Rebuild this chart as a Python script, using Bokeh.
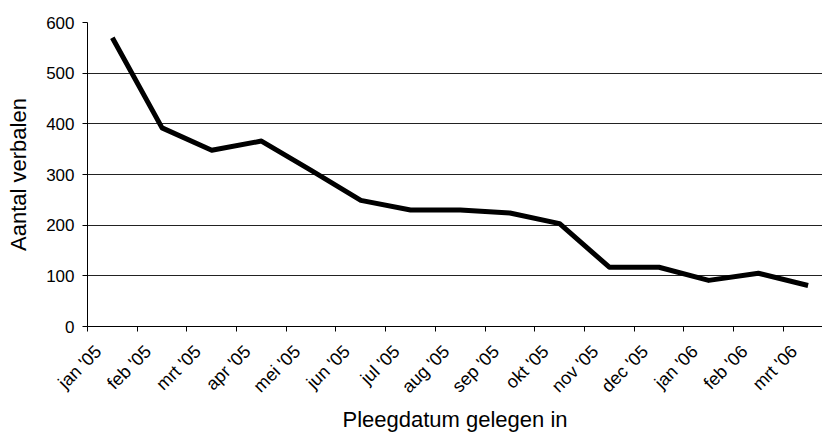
import numpy as np
from math import pi
from bokeh.plotting import figure
from bokeh.models import Range1d, FixedTicker
from bokeh.embed import file_html
from bokeh.resources import INLINE

months = ["jan '05", "feb '05", "mrt '05", "apr '05", "mei '05", "jun '05",
          "jul '05", "aug '05", "sep '05", "okt '05", "nov '05", "dec '05",
          "jan '06", "feb '06", "mrt '06"]
verbalen = [570, 392, 348, 366, 308, 249, 230, 230, 224, 203, 117, 117, 91, 105, 81]
y_ticks = [0, 100, 200, 300, 400, 500, 600]
grid_ticks = [100, 200, 300, 400, 500]

idx = np.arange(len(months))
x_centers = idx + 0.5
label_pos = [float(i) + 0.22 for i in idx]
boundaries = [float(i) for i in idx]

FONT = "Liberation Sans"

p = figure(width=822, height=435, output_backend="svg", toolbar_location=None,
           x_range=Range1d(0, 14.79), y_range=Range1d(0, 600),
           min_border_left=87, min_border_right=0, min_border_top=22,
           min_border_bottom=109)
p.background_fill_color = "white"
p.border_fill_color = "white"
p.outline_line_color = None

p.line(x_centers, verbalen, line_width=5, line_color="black", line_join="round")

# x axis
xa = p.xaxis[0]
xa.ticker = FixedTicker(ticks=label_pos, minor_ticks=boundaries)
xa.major_label_overrides = {lp: m for lp, m in zip(label_pos, months)}
xa.major_label_orientation = pi / 4
xa.major_tick_line_color = None
xa.major_tick_out = 0
xa.major_tick_in = 0
xa.minor_tick_line_color = "black"
xa.minor_tick_out = 5
xa.minor_tick_in = 0
xa.axis_line_color = "black"
xa.major_label_text_font = FONT
xa.major_label_text_font_size = "18px"
xa.major_label_text_color = "black"
xa.major_label_standoff = 17
xa.axis_label = "Pleegdatum gelegen in"
xa.axis_label_text_font = FONT
xa.axis_label_text_font_size = "22px"
xa.axis_label_text_font_style = "normal"
xa.axis_label_text_color = "black"
xa.axis_label_standoff = 0

# y axis
ya = p.yaxis[0]
ya.ticker = FixedTicker(ticks=y_ticks)
ya.major_tick_out = 5
ya.major_tick_in = 0
ya.minor_tick_line_color = None
ya.axis_line_color = "black"
ya.major_tick_line_color = "black"
ya.major_label_text_font = FONT
ya.major_label_text_font_size = "17px"
ya.major_label_text_color = "black"
ya.major_label_standoff = 8
ya.axis_label = "Aantal verbalen"
ya.axis_label_text_font = FONT
ya.axis_label_text_font_size = "22px"
ya.axis_label_text_font_style = "normal"
ya.axis_label_text_color = "black"
ya.axis_label_standoff = 12

p.xgrid.visible = False
p.ygrid.ticker = FixedTicker(ticks=grid_ticks)
p.ygrid.grid_line_color = "#222222"
p.ygrid.grid_line_width = 1

open("out.html", "w").write(file_html(p, INLINE))
